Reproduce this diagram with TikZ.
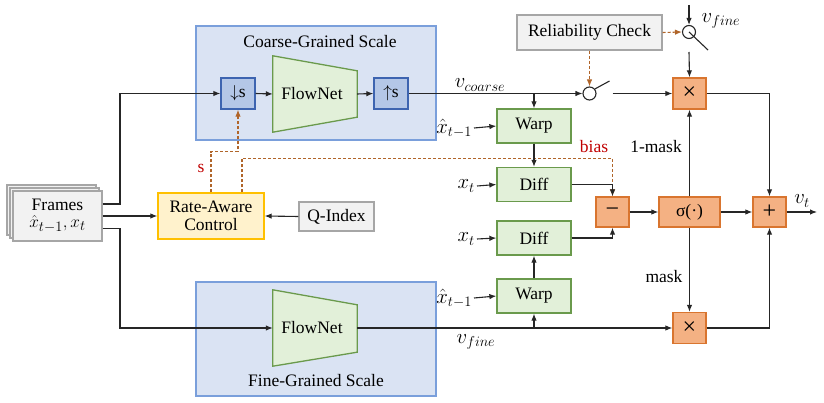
\documentclass[tikz,border=0pt]{standalone}
\usepackage{fontspec}
\setmainfont{Liberation Serif}
\usetikzlibrary{arrows.meta,calc}
\definecolor{cbfill}{HTML}{DAE3F3}
\definecolor{cbdraw}{HTML}{7A9FDB}
\definecolor{bfill}{HTML}{B4C7E7}
\definecolor{bdraw}{HTML}{3D64B0}
\definecolor{gfill}{HTML}{E2F0D9}
\definecolor{gdraw}{HTML}{6A9A4C}
\definecolor{ofill}{HTML}{F4B183}
\definecolor{odraw}{HTML}{D9752F}
\definecolor{yfill}{HTML}{FFF2CC}
\definecolor{ydraw}{HTML}{FFC000}
\definecolor{grfill}{HTML}{F2F2F2}
\definecolor{grdraw}{HTML}{A6A6A6}
\definecolor{dashbrown}{HTML}{B0652A}
\definecolor{lblred}{HTML}{C00000}
\definecolor{linec}{HTML}{262626}
\begin{document}
\begin{tikzpicture}[x=1pt,y=-1pt,
  txt/.style={font=\fontsize{17.5}{20}\selectfont, inner sep=2pt},
  mtxt/.style={font=\fontsize{20}{22}\selectfont, inner sep=2pt},
  box/.style={txt, draw, line width=1.3pt, inner sep=0pt, align=center},
  scalebox/.style={box, fill=cbfill, draw=cbdraw, minimum width=240, minimum height=114},
  bluebox/.style={box, fill=bfill, draw=bdraw, minimum width=34, minimum height=31},
  greenbox/.style={box, fill=gfill, draw=gdraw, minimum width=74, minimum height=34},
  orangebox/.style={box, fill=ofill, draw=odraw, minimum width=33, minimum height=30},
  opbox/.style={orangebox, font=\fontsize{24}{24}\selectfont},
  graybox/.style={box, fill=grfill, draw=grdraw},
  trap/.style={fill=gfill, draw=gdraw, line width=1.3pt},
  sw/.style={circle, draw=linec, line width=1.1pt, minimum size=13, inner sep=0pt},
  arr/.style={-{Latex[length=7pt,width=5.5pt]}, line width=1.1pt, draw=linec},
  ln/.style={line width=1.1pt, draw=linec},
  darr/.style={-{Latex[length=7pt,width=5.5pt]}, line width=1.1pt, draw=dashbrown, dash pattern=on 3pt off 2pt},
  redlbl/.style={txt, text=lblred}]
\useasboundingbox (0,0) rectangle (824,403);

% scale boxes
\node[scalebox] (coarse) at (316,83) {};
\node[scalebox] (fine) at (316,339) {};
\node[txt] (coarset) at (320,42) {Coarse-Grained Scale};
\node[txt] (finet) at (316,381) {Fine-Grained Scale};

% FlowNets
\node[minimum width=84, minimum height=76, inner sep=0pt] (fnc) at (315,94) {};
\draw[trap] (fnc.north west) -- ($(fnc.north east)+(0,15)$) -- ($(fnc.south east)+(0,-15)$) -- (fnc.south west) -- cycle;
\node[txt] at (312,94) {FlowNet};
\node[minimum width=84, minimum height=76, inner sep=0pt] (fnf) at (315,328) {};
\draw[trap] (fnf.north west) -- ($(fnf.north east)+(0,15)$) -- ($(fnf.south east)+(0,-14)$) -- (fnf.south west) -- cycle;
\node[txt] at (312,328) {FlowNet};

\node[bluebox] (ds) at (238,93.5) {$\downarrow$s};
\node[bluebox] (us) at (391,93.5) {$\uparrow$s};

% Frames stack
\node[graybox, minimum width=89, minimum height=50] (fr3) at (51.5,210) {};
\node[graybox, minimum width=89, minimum height=50] (fr2) at (54.5,213) {};
\node[graybox, minimum width=89, minimum height=50] (frames) at (57.5,216) {Frames\\[-3pt]{\fontsize{19}{20}\selectfont$\hat{x}_{t-1},x_t$}};

\node[box, fill=yfill, draw=ydraw, minimum width=106, minimum height=46] (rac) at (211,216) {Rate-Aware\\[-2pt]Control};
\node[graybox, minimum width=75, minimum height=29] (qidx) at (336.5,216.5) {Q-Index};
\node[graybox, minimum width=145, minimum height=35] (rel) at (589.5,32.5) {Reliability Check};

\node[greenbox] (warp1) at (534,126) {Warp};
\node[greenbox] (diff1) at (534,184.5) {Diff};
\node[greenbox] (diff2) at (534,238) {Diff};
\node[greenbox] (warp2) at (534,296) {Warp};

\node[opbox] (minus) at (612.5,212) {−};
\node[orangebox, minimum width=61] (sig) at (689.5,212) {σ(·)};
\node[opbox] (plus) at (769.5,212) {+};
\node[opbox, minimum height=31] (mul1) at (689.5,93.5) {×};
\node[opbox, minimum height=31] (mul2) at (689.5,328) {×};

\node[sw] (sw1) at (589.5,93.5) {};
\node[sw] (sw2) at (689,32) {};

% input labels
\node[mtxt, anchor=east] (lx1) at (474,128) {$\hat{x}_{t-1}$};
\node[mtxt, anchor=east] (lx2) at (477,186) {$x_t$};
\node[mtxt, anchor=east] (lx3) at (477,239) {$x_t$};
\node[mtxt, anchor=east] (lx4) at (474,298) {$\hat{x}_{t-1}$};

% connectors
\coordinate (j1) at (120,93.5);
\coordinate (j2) at (120,328);
\draw[arr] ([yshift=12pt]frames.east) -| (j1) -- (ds.west);
\draw[arr] (frames.east) -- (rac.west);
\draw[arr] ([yshift=-12.5pt]frames.east) -| (j2) -- (fnf.west);
\draw[arr] (qidx.west) -- (rac.east);

\draw[darr] (rac.north) |- ($(ds.south)+(0,42)$) -- (ds.south);
\draw[darr] ([xshift=31pt]rac.north) |- ($(minus.north)+(0,-38)$) -- (minus.north);
\node[redlbl] (slbl) at (201,168) {s};
\node[redlbl] (biaslbl) at (594,147) {bias};

\draw[arr] (ds.east) -- (fnc.west);
\draw[arr] (fnc.east) -- (us.west);
\draw[arr] (us.east) -- (sw1.west);
\draw[arr] (warp1.north |- us.east) -- (warp1.north);
\node[mtxt] (vc) at (480,85) {$v_{coarse}$};
\draw[ln] (sw1.40) -- ($(sw1.center)+(20,-12.5)$);
\coordinate (sw1o) at ($(sw1.center)+(23,0)$);
\draw[arr] (sw1o) -- (mul1.west);
\draw[darr] (rel.south) -- (sw1.north);
\draw[darr] (rel.east) -- (sw2.west);
\coordinate (sw2i) at ($(sw2.north)+(0,-20)$);
\draw[arr] (sw2i) -- (sw2.north);
\draw[ln] (sw2.center) -- ($(sw2.center)+(19,18)$);
\coordinate (sw2o) at ($(sw2.center)+(0,20)$);
\draw[arr] (sw2o) -- (mul1.north);
\node[mtxt] (vf1) at (721,21) {$v_{fine}$};

\draw[arr] (lx1.east) -- (warp1.west);
\draw[arr] (lx2.east) -- (diff1.west);
\draw[arr] (lx3.east) -- (diff2.west);
\draw[arr] (lx4.east) -- (warp2.west);
\draw[arr] (warp1.south) -- (diff1.north);
\draw[arr] (warp2.north) -- (diff2.south);
\draw[arr] (diff1.east) -| (minus.north);
\draw[arr] (diff2.east) -| (minus.south);

\draw[arr] (fnf.east) -- (mul2.west);
\draw[arr] (warp2.south |- mul2.west) -- (warp2.south);
\node[mtxt] (vf2) at (476,342) {$v_{fine}$};

\draw[arr] (minus.east) -- (sig.west);
\draw[arr] (sig.east) -- (plus.west);
\coordinate (vt) at (817,212);
\draw[arr] (plus.east) -- (vt);
\node[mtxt] (vtl) at (802,201) {$v_t$};
\draw[arr] (sig.north) -- (mul1.south);
\draw[arr] (sig.south) -- (mul2.north);
\node[txt] (m1) at (656,147) {1-mask};
\node[txt] (m2) at (664,277) {mask};
\draw[arr] (mul1.east) -| (plus.north);
\draw[arr] (mul2.east) -| (plus.south);
\end{tikzpicture}
\end{document}
